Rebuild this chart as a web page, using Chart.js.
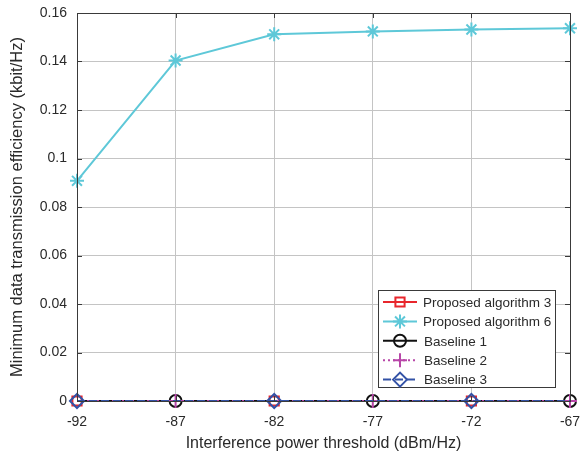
<!DOCTYPE html>
<html>
<head>
<meta charset="utf-8">
<script src="https://cdn.jsdelivr.net/npm/chart.js@4/dist/chart.umd.min.js"></script>
<style>
  html, body { margin: 0; padding: 0; background: #fff; }
  #wrap { width: 587px; height: 453px; }
</style>
</head>
<body>
<div id="wrap"><canvas id="c" width="587" height="453"></canvas></div>
<script>
// Interference power threshold (dBm/Hz)
const thresholds = [-92, -87, -82, -77, -72, -67];
// Minimum data transmission efficiency (kbit/Hz)
const proposed3 = [0, 0, 0, 0, 0, 0];
const proposed6 = [0.0908, 0.1404, 0.1512, 0.1524, 0.1532, 0.1537];
const baseline1 = [0, 0, 0, 0, 0, 0];
const baseline2 = [0, 0, 0, 0, 0, 0];
const baseline3 = [0, 0, 0, 0, 0, 0];
const yTicks = [0, 0.02, 0.04, 0.06, 0.08, 0.1, 0.12, 0.14, 0.16];
const seriesNames = ['Proposed algorithm 3', 'Proposed algorithm 6', 'Baseline 1', 'Baseline 2', 'Baseline 3'];

const FONT = 'Liberation Sans, Arimo, Arial, sans-serif';
const TEXT = '#2a2a2a';
const pts = arr => arr.map((v, i) => ({ x: thresholds[i], y: v }));
// markers on every other sample
const evenMarks = r => thresholds.map((_, i) => (i % 2 === 0 ? r : 0));
const oddMarks = r => thresholds.map((_, i) => (i % 2 === 1 ? r : 0));

const styles = [
  { color: '#e8262c', dash: [], marker: 'rect', radius: 6.5, radii: evenMarks(6.5), order: 5 },
  { color: '#5ec8d8', dash: [], marker: 'star', radius: 7, radii: thresholds.map(() => 7), order: 4 },
  { color: '#111111', dash: [], marker: 'circle', radius: 6, radii: oddMarks(6), order: 3 },
  { color: '#b846a8', dash: [2, 3], marker: 'cross', radius: 7, radii: oddMarks(7), order: 2 },
  { color: '#3352a6', dash: [8, 4], marker: 'rectRot', radius: 7, radii: evenMarks(7), order: 1 }
];
const values = [proposed3, proposed6, baseline1, baseline2, baseline3];

const datasets = values.map((v, k) => ({
  label: seriesNames[k],
  data: pts(v),
  borderColor: styles[k].color,
  backgroundColor: 'rgba(0,0,0,0)',
  borderWidth: 2,
  borderDash: styles[k].dash,
  pointStyle: styles[k].marker,
  pointRadius: styles[k].radii,
  pointBorderColor: styles[k].color,
  pointBackgroundColor: 'rgba(0,0,0,0)',
  pointBorderWidth: 2,
  pointHoverRadius: 0,
  tension: 0,
  order: styles[k].order,
  clip: false
}));

// Frame with inward ticks on all four sides
const framePlugin = {
  id: 'frame',
  afterDatasetsDraw(chart) {
    const { ctx, chartArea: a, scales } = chart;
    ctx.save();
    ctx.strokeStyle = '#3a3a3a';
    ctx.lineWidth = 1;
    ctx.setLineDash([]);
    ctx.strokeRect(a.left + 0.5, a.top + 0.5, a.right - a.left, a.bottom - a.top);
    const L = 5;
    ctx.beginPath();
    thresholds.forEach(t => {
      const x = Math.round(scales.x.getPixelForValue(t)) + 0.5;
      ctx.moveTo(x, a.bottom); ctx.lineTo(x, a.bottom - L);
      ctx.moveTo(x, a.top); ctx.lineTo(x, a.top + L);
    });
    yTicks.forEach(t => {
      const y = Math.round(scales.y.getPixelForValue(t)) + 0.5;
      ctx.moveTo(a.left, y); ctx.lineTo(a.left + L, y);
      ctx.moveTo(a.right, y); ctx.lineTo(a.right - L, y);
    });
    ctx.stroke();
    ctx.restore();
  }
};

// Legend box with line samples and markers, lower right of the plot
const legendPlugin = {
  id: 'lineLegend',
  afterDraw(chart) {
    const { ctx, chartArea: a } = chart;
    const w = 177, h = 97, rowH = 19.4;
    const left = a.right - 15 - w, top = a.bottom - 111;
    ctx.save();
    ctx.fillStyle = '#fff';
    ctx.fillRect(left, top, w, h);
    ctx.strokeStyle = '#3a3a3a';
    ctx.lineWidth = 1;
    ctx.strokeRect(left + 0.5, top + 0.5, w, h);
    seriesNames.forEach((name, k) => {
      const s = styles[k];
      const y = top + 12 + k * rowH;
      const x0 = left + 5, x1 = left + 39, xm = (x0 + x1) / 2;
      ctx.strokeStyle = s.color;
      ctx.lineWidth = 2;
      ctx.setLineDash(s.dash);
      ctx.beginPath(); ctx.moveTo(x0, y); ctx.lineTo(x1, y); ctx.stroke();
      ctx.setLineDash([]);
      ctx.fillStyle = 'rgba(0,0,0,0)';
      Chart.helpers.drawPoint(ctx, { pointStyle: s.marker, radius: s.radius, borderWidth: 2, rotation: 0 }, xm, y);
      ctx.fillStyle = TEXT;
      ctx.font = '13.5px ' + FONT;
      ctx.textBaseline = 'middle';
      ctx.textAlign = 'left';
      const tx = k < 2 ? left + 45 : left + 46;
      ctx.fillText(name, tx, y + 1);
    });
    ctx.restore();
  }
};

new Chart(document.getElementById('c'), {
  type: 'line',
  data: { datasets },
  options: {
    responsive: false,
    animation: false,
    events: [],
    layout: { autoPadding: false, padding: { left: 8, right: 17, top: 13, bottom: 0 } },
    plugins: { legend: { display: false }, tooltip: { enabled: false } },
    scales: {
      x: {
        type: 'linear',
        min: -92, max: -67,
        afterBuildTicks: s => { s.ticks = thresholds.map(v => ({ value: v })); },
        afterFit: s => { s.height = 52; s.paddingLeft = 0; s.paddingRight = 0; },
        ticks: { color: TEXT, font: { family: FONT, size: 14 }, padding: 13, callback: v => String(v) },
        grid: { color: '#c4c4c4', lineWidth: 1, drawTicks: false },
        border: { display: false },
        title: { display: true, text: 'Interference power threshold (dBm/Hz)', color: TEXT, font: { family: FONT, size: 16 }, padding: { top: 0, bottom: 0 } }
      },
      y: {
        min: 0, max: 0.16,
        afterBuildTicks: s => { s.ticks = yTicks.map(v => ({ value: v })); },
        afterFit: s => { s.width = 69; s.paddingTop = 0; s.paddingBottom = 0; },
        ticks: { color: TEXT, font: { family: FONT, size: 14 }, padding: 10, callback: v => String(parseFloat(v.toFixed(2))) },
        grid: { color: '#c4c4c4', lineWidth: 1, drawTicks: false },
        border: { display: false },
        title: { display: true, text: 'Minimum data transmission efficiency (kbit/Hz)', color: TEXT, font: { family: FONT, size: 16.5 }, padding: { top: 0, bottom: 0 } }
      }
    }
  },
  plugins: [framePlugin, legendPlugin]
});
</script>
</body>
</html>
